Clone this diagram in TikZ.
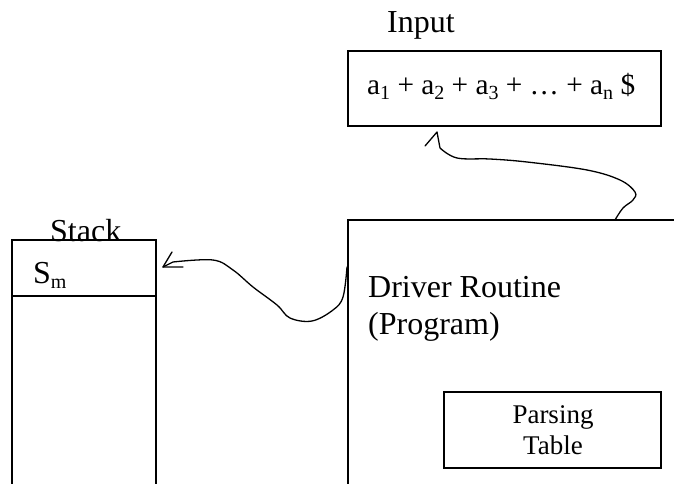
\documentclass[tikz,border=0pt]{standalone}
\usepackage{fontspec}
\setmainfont{Liberation Serif}
\newcommand{\lowsub}[1]{\raisebox{-0.17em}{\fontsize{20}{20}\selectfont #1}}
\tikzset{
  box/.style={line width=1.6pt},
  lbl/.style={anchor=base west,inner sep=0pt,font=\fontsize{32}{36}\selectfont},
  small/.style={align=center,inner sep=0pt,font=\fontsize{27}{31}\selectfont},
  squiggle/.style={line width=1.3pt,line join=round,line cap=round}
}
\begin{document}
\begin{tikzpicture}[x=1pt,y=-1pt]
\useasboundingbox (0,0) rectangle (674,484);
% Input box
\draw[box] (348,51) rectangle (661,126);
\node[lbl] (inputlbl) at (387,33) {Input};
\node[lbl,font=\fontsize{29.3}{34}\selectfont] (inputtxt) at (367,95) {a\lowsub{1} + a\lowsub{2} + a\lowsub{3} + \dots{} + a\lowsub{n} \$};
% Stack
\draw[box] (12,484) -- (12,240) -- (156,240) -- (156,484);
\draw[box] (12,296) -- (156,296);
\node[lbl] (stacklbl) at (50,241) {Stack};
\node[lbl] (sm) at (33,283) {S\lowsub{m}};
% Driver
\draw[box] (348,484) -- (348,220) -- (674,220);
\node[lbl] (drv1) at (368,297) {Driver Routine};
\node[lbl] (drv2) at (368,334) {(Program)};
% Parsing table
\draw[box] (444,392) rectangle (661,468);
\node[small] (pt) at (553,430) {Parsing\\Table};
% connectors
\coordinate (a1start) at (615,220);
\coordinate (a1tip) at (437,132);
\coordinate (a2start) at (347,267);
\coordinate (a2tip) at (163,267);
\draw[squiggle] (425,146) -- (a1tip) -- (440,148)
  plot[smooth,tension=0.6] coordinates {(440,148) (457,158) (490,159) (527,162) (587,170) (620,180) (635,192) (633,200) (623,208) (a1start)};
\draw[squiggle] (172,252) -- (a2tip) -- (183,267);
\draw[squiggle] (a2tip) -- (173,262)
  plot[smooth,tension=0.6] coordinates {(173,262) (213,260) (233,270) (253,287) (277,305) (290,318) (312,321) (333,310) (343,297) (a2start)};
\end{tikzpicture}
\end{document}
